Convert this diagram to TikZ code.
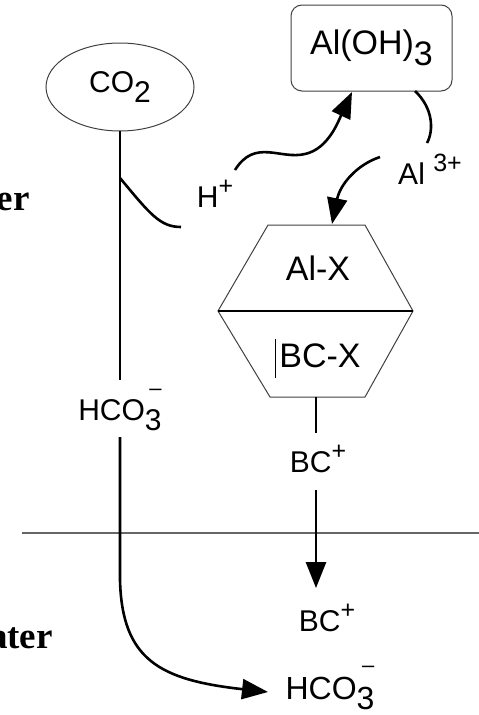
\documentclass[tikz,border=0pt]{standalone}
\usepackage{fontspec}
\setmainfont{Liberation Sans}
\newfontfamily\serifb{Liberation Serif}
\usetikzlibrary{arrows.meta,shapes.geometric}
\newcommand{\dn}[1]{\raisebox{-0.32em}{#1}}
\newcommand{\upc}[1]{\raisebox{0.42em}{\fontsize{25}{27}\selectfont #1}}
\newcommand{\minusover}{\makebox[0pt][r]{\raisebox{0.85em}{\fontsize{22}{24}\selectfont \textendash}}}
\begin{document}
\begin{tikzpicture}[x=1pt,y=-1pt,
  lbl/.style={inner sep=0pt, font=\fontsize{30}{34}\selectfont},
  big/.style={inner sep=0pt, font=\fontsize{34}{38}\selectfont},
  side/.style={inner sep=0pt, anchor=base east, font=\serifb\bfseries\fontsize{37}{40}\selectfont},
  outline/.style={draw=black!75, line width=1pt},
  ln/.style={line width=2.6pt},
  arr/.style={line width=2.6pt,-{Triangle[length=26pt,width=20pt]}},
]
\useasboundingbox (0,0) rectangle (479,715);
% nodes
\node[ellipse, outline, minimum width=148pt, minimum height=88pt, inner sep=0pt, font=\fontsize{30}{34}\selectfont] (co2) at (120,87) {CO\dn{2}};
\node[outline, rounded corners=11pt, minimum width=161pt, minimum height=86pt, inner sep=0pt, font=\fontsize{34}{38}\selectfont] (aloh) at (371.5,48) {Al(OH)\dn{3}};
\node[lbl] (hplus) at (215,194) {H\upc{+}};
\node[lbl] (al3) at (430,169) {Al \upc{3+}};
\node[big] (alx) at (318,268) {Al-X};
\node[big] (bcx) at (320,356) {BC-X};
\node[lbl] (hco3a) at (120,410) {HCO\dn{3}\minusover};
\node[lbl] (bc1) at (318,459) {BC\upc{+}};
\node[lbl] (bc2) at (327,618) {BC\upc{+}};
\node[lbl, font=\fontsize{32}{36}\selectfont] (hco3b) at (330,688) {HCO\dn{3}\minusover};
\node[side] (er) at (30,210) {er};
\node[side] (ater) at (53,648) {ater};
% coordinates
\coordinate (vtop) at (120,131);
\coordinate (vmid) at (120,380);
\coordinate (vlow) at (120,437);
\coordinate (vbend) at (120,580);
\coordinate (brS) at (120,178);
\coordinate (brE) at (181,227);
\coordinate (hS) at (235,170);
\coordinate (hE) at (352,92);
\coordinate (aS) at (415,91);
\coordinate (aE) at (427,143);
\coordinate (lS) at (380,157);
\coordinate (lE) at (332,224);
\coordinate (h1) at (268,225);
\coordinate (h2) at (365,225);
\coordinate (h3) at (413,311);
\coordinate (h4) at (365,397);
\coordinate (h5) at (270,397);
\coordinate (h6) at (218,311);
\coordinate (hexB) at (316,397);
\coordinate (b1top) at (316,433);
\coordinate (b1bot) at (316,490);
\coordinate (b2top) at (316,588);
\coordinate (bottomE) at (268,692);
\coordinate (surfL) at (22,533);
\coordinate (surfR) at (479,533);
\coordinate (curT) at (275,339);
\coordinate (curB) at (275,378);
% hexagon
\draw[outline] (h1) -- (h2) -- (h3) -- (h4) -- (h5) -- (h6) -- cycle;
\draw[line width=1.3pt] (h6) -- (h3);
\draw[line width=0.9pt] (curT) -- (curB);
% surface line
\draw[draw=black!60, line width=1.4pt] (surfL) -- (surfR);
% connectors
\draw[ln] (vtop) -- (vmid);
\draw[ln] (brS) .. controls (150,214) and (160,227) .. (brE);
\draw[arr] (hS) .. controls (255,138) and (280,160) .. (305,154) .. controls (328,149) and (338,122) .. (hE);
\draw[ln] (aS) .. controls (433,108) and (434,130) .. (aE);
\draw[arr] (lS) .. controls (356,165) and (340,185) .. (lE);
\draw[ln] (hexB) -- (b1top);
\draw[arr] (b1bot) -- (b2top);
\draw[arr] (vlow) -- (vbend) .. controls (122,660) and (160,680) .. (bottomE);
\end{tikzpicture}
\end{document}
